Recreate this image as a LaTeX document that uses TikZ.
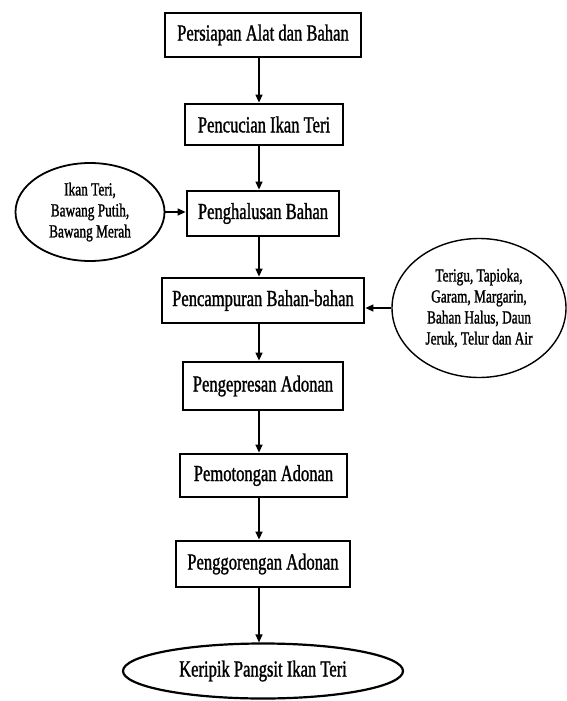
\documentclass[tikz,border=0pt]{standalone}
\usepackage{fontspec}
\setmainfont{Liberation Serif}[FakeStretch=0.72, FakeBold=1.2]
\usetikzlibrary{shapes.geometric,arrows.meta}

\tikzset{
  etapa/.style={draw, rectangle, line width=2.8pt, inner sep=0pt,
    font=\fontsize{23}{26}\selectfont},
  bahan/.style={draw, ellipse, line width=1.8pt, inner sep=0pt, align=center,
    font=\fontsize{18.5}{21}\selectfont},
  seta/.style={->, line width=1.3pt}
}

\begin{document}
\begin{tikzpicture}[x=1pt, y=-1pt, >={Triangle[length=8pt, width=7pt]}]
    \useasboundingbox (0,0) rectangle (566,701);

    % Etapas do processo
    \node[etapa, minimum width=196pt, minimum height=44pt] (b1) at (263,35) {Persiapan Alat dan Bahan};
    \node[etapa, minimum width=158pt, minimum height=41pt] (b2) at (264,124.5) {Pencucian Ikan Teri};
    \node[etapa, minimum width=152pt, minimum height=45pt] (b3) at (263,213.5) {Penghalusan Bahan};
    \node[etapa, minimum width=202pt, minimum height=45pt] (b4) at (263,300.5) {Pencampuran Bahan-bahan};
    \node[etapa, minimum width=160pt, minimum height=48pt] (b5) at (263,386) {Pengepresan Adonan};
    \node[etapa, minimum width=167pt, minimum height=43pt] (b6) at (263.5,475.5) {Pemotongan Adonan};
    \node[etapa, minimum width=174pt, minimum height=46pt] (b7) at (263,564) {Penggorengan Adonan};
    \node[bahan, font=\fontsize{23}{26}\selectfont, line width=2.2pt, minimum width=280pt, minimum height=55pt] (hasil) at (263,671) {Keripik Pangsit Ikan Teri};

    % Bahan que entram pelos lados
    \node[bahan, minimum width=149pt, minimum height=98pt] (kiri) at (90,212) {Ikan Teri,\\Bawang Putih,\\Bawang Merah};
    \node[bahan, line width=1.4pt, minimum width=174pt, minimum height=139pt] (kanan) at (479,308) {Terigu, Tapioka,\\Garam, Margarin,\\Bahan Halus, Daun\\Jeruk, Telur dan Air};

    % Eixo das setas verticais
    \coordinate (sumbu) at (259,0);

    % Setas entre as etapas
    \draw[seta] (b1.south -| sumbu) -- (b2.north -| sumbu);
    \draw[seta] (b2.south -| sumbu) -- (b3.north -| sumbu);
    \draw[seta] (b3.south -| sumbu) -- (b4.north -| sumbu);
    \draw[seta] (b4.south -| sumbu) -- (b5.north -| sumbu);
    \draw[seta] (b5.south -| sumbu) -- (b6.north -| sumbu);
    \draw[seta] (b6.south -| sumbu) -- (b7.north -| sumbu);
    \draw[seta] (b7.south -| sumbu) -- (hasil.north -| sumbu);

    % Setas laterais
    \draw[seta] (kiri.east) -- (kiri.east -| b3.west);
    \draw[seta] (kanan.west) -- (kanan.west -| b4.east);
\end{tikzpicture}
\end{document}
